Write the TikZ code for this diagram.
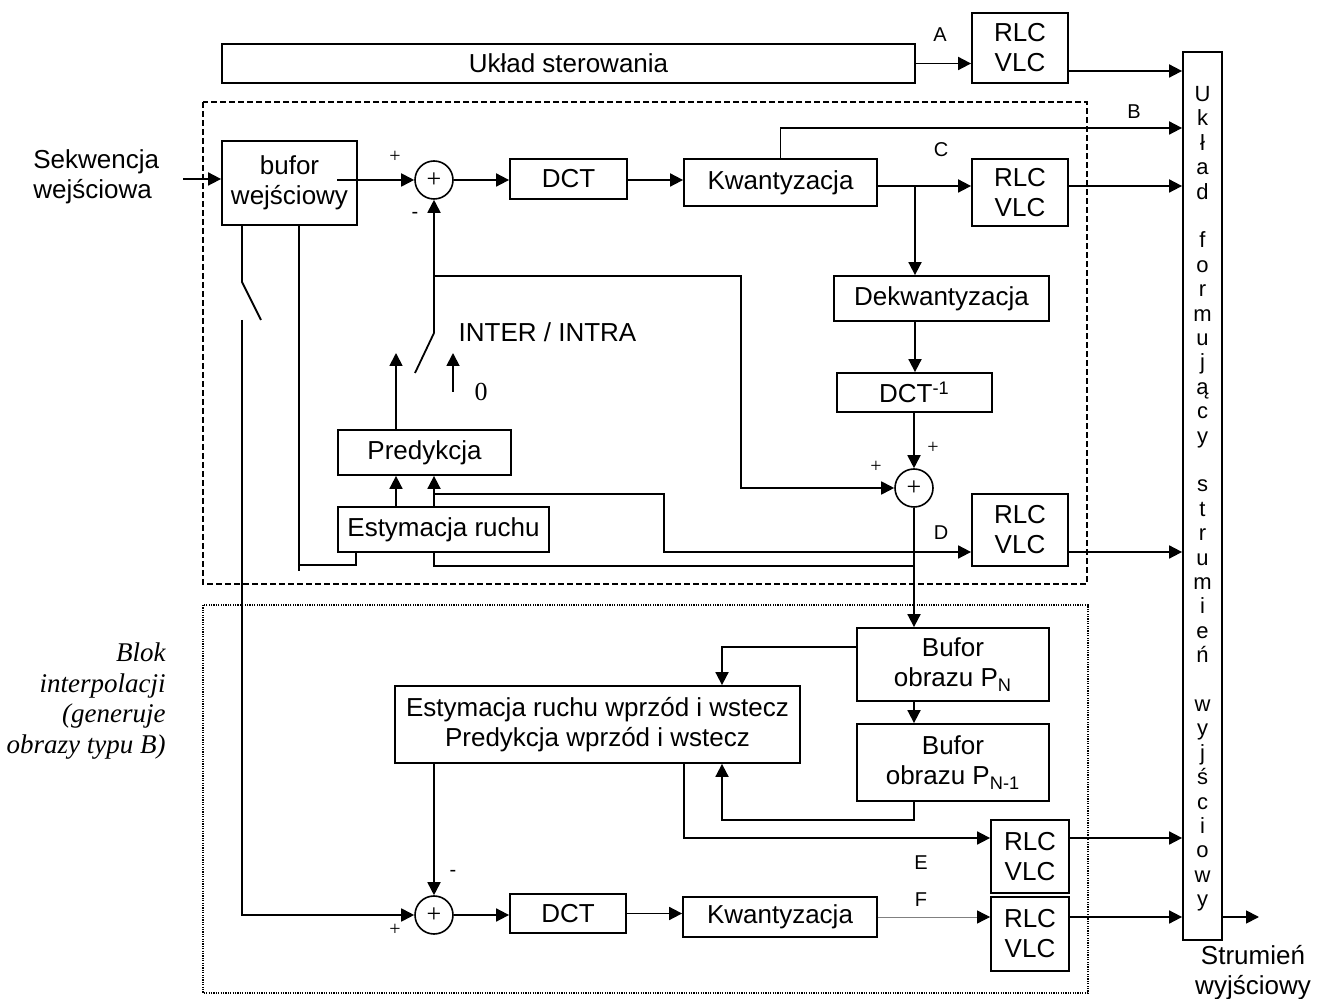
\documentclass[tikz,border=0pt]{standalone}
\usepackage{fontspec}
\setmainfont{Liberation Sans}
\newfontfamily\tms{Liberation Serif}
\usetikzlibrary{arrows.meta}
\tikzset{
  blk/.style={draw, line width=0.9pt, inner sep=0pt, align=center,
    font=\fontsize{13}{15}\selectfont},
  sumc/.style={draw, circle, line width=0.8pt, minimum size=19pt, inner sep=0pt,
    font=\tms\fontsize{13}{13}\selectfont},
  arr/.style={line width=0.9pt, -{Triangle[length=6.5pt,width=6.5pt]}},
  ln/.style={line width=0.9pt},
  lbl/.style={inner sep=0pt, font=\fontsize{10}{10}\selectfont},
  sgn/.style={inner sep=0pt, font=\tms\fontsize{10}{10}\selectfont},
  txt/.style={inner sep=0pt, font=\fontsize{13}{15}\selectfont}
}
\begin{document}
\begin{tikzpicture}[x=0.5pt,y=-0.5pt]
  \useasboundingbox (0,0) rectangle (1318,999);
  % ramki blokow
  \draw [line width=0.9pt, dash pattern=on 3pt off 1.5pt] (203,102) rectangle (1087,584);
  \draw [line width=0.8pt, dash pattern=on 0.6pt off 0.6pt] (203,605) rectangle (1088,993);

  \node [blk, minimum width=346.5pt, minimum height=19.5pt] (uklad) at (568.5,63.5) {Układ sterowania};
  \node [blk, minimum width=48pt, minimum height=35pt] (rlcA) at (1020,48) {RLC\\VLC};
  \node [blk, minimum width=19.5pt, minimum height=444pt] (form) at (1202.5,496) {};
  \node [blk, minimum width=67.5pt, minimum height=42pt] (bufor) at (289.5,183) {bufor\\wejściowy};
  \node [sumc] (sum1) at (434,180) {+};
  \node [blk, minimum width=58.5pt, minimum height=20pt] (dct1) at (568.5,179) {DCT};
  \node [blk, minimum width=96.5pt, minimum height=23.5pt] (kw1) at (780.5,182.5) {Kwantyzacja};
  \node [blk, minimum width=48pt, minimum height=33.5pt] (rlcC) at (1020,192.5) {RLC\\VLC};
  \node [blk, minimum width=107.5pt, minimum height=22.5pt] (dekw) at (941.5,298.5) {Dekwantyzacja};
  \node [blk, minimum width=77.5pt, minimum height=19.5pt] (idct) at (914.5,392.5) {DCT\textsuperscript{-1}};
  \node [sumc] (sum2) at (914,488) {+};
  \node [blk, minimum width=86.5pt, minimum height=22.5pt] (pred) at (424.5,452.5) {Predykcja};
  \node [blk, minimum width=105.5pt, minimum height=22.5pt] (est) at (443.5,529.5) {Estymacja ruchu};
  \node [blk, minimum width=48pt, minimum height=36pt] (rlcD) at (1020,530) {RLC\\VLC};
  \node [blk, minimum width=96pt, minimum height=36.5pt] (bufN) at (953,664.5) {Bufor\\obrazu P\textsubscript{N}};
  \node [blk, minimum width=96pt, minimum height=38.5pt] (bufN1) at (953,762.5) {Bufor\\obrazu P\textsubscript{N-1}};
  \node [blk, minimum width=202.5pt, minimum height=38.5pt] (estB) at (597.5,724.5)
    {Estymacja ruchu wprzód i wstecz\\Predykcja wprzód i wstecz};
  \node [blk, minimum width=39pt, minimum height=36.5pt] (rlcE) at (1030,856.5) {RLC\\VLC};
  \node [blk, minimum width=39pt, minimum height=37pt] (rlcF) at (1030,934) {RLC\\VLC};
  \node [sumc] (sum3) at (434,915) {+};
  \node [blk, minimum width=58pt, minimum height=19.5pt] (dct2) at (568,913.5) {DCT};
  \node [blk, minimum width=97pt, minimum height=20pt] (kw2) at (780,917) {Kwantyzacja};

  % opisy
  \node [txt, align=left, anchor=west] (seq) at (33,177) {Sekwencja\\wejściowa};
  \node [txt, align=center] (strum) at (1253,973) {Strumień\\wyjściowy};
  \node [txt] (intra) at (547.5,332) {INTER / INTRA};
  \node [inner sep=0pt, font=\tms\fontsize{13}{13}\selectfont] (zero) at (481,391.5) {0};
  \node [inner sep=0pt, align=right, anchor=east, font=\tms\itshape\fontsize{13.5}{15.3}\selectfont]
    (blok) at (166,701) {Blok\\interpolacji\\(generuje\\obrazy typu B)};
  \foreach \ch [count=\i from 0] in {U,k,ł,a,d,{},f,o,r,m,u,j,ą,c,y,{},s,t,r,u,m,i,e,ń,{},w,y,j,ś,c,i,o,w,y}
    \node [anchor=base, inner sep=0pt, font=\fontsize{11}{11}\selectfont] (c\i) at (1202.5,101.5+24.4*\i) {\ch};
  \node [lbl] (lA) at (940,35) {A};
  \node [lbl] (lB) at (1134,112) {B};
  \node [lbl] (lC) at (941,150) {C};
  \node [lbl] (lD) at (941,533) {D};
  \node [lbl] (lE) at (921,863) {E};
  \node [lbl] (lF) at (921,900) {F};
  \node [sgn] (p1) at (395,157) {+};
  \node [lbl] (m1) at (415,215) {-};
  \node [sgn] (p2) at (933,448) {+};
  \node [sgn] (p3) at (876,467) {+};
  \node [lbl] (m3) at (453,873) {-};
  \node [sgn] (p4) at (395,930) {+};

  \coordinate (in) at (183,179);
  \coordinate (bo) at (337,180);
  \coordinate (yA) at (0,71);
  \coordinate (yB) at (0,128);
  \coordinate (j1) at (915,186);
  \coordinate (fb) at (434,276);
  \coordinate (fbc) at (741,276);
  \coordinate (sw) at (434,333);
  \coordinate (swb) at (415,373);
  \coordinate (pin) at (396,353);
  \coordinate (zin) at (453,353);
  \coordinate (zb) at (453,392);
  \coordinate (mv) at (434,494);
  \coordinate (mvc) at (664,494);
  \coordinate (yD) at (0,552);
  \coordinate (rc) at (434,566);
  \coordinate (s1) at (242,282);
  \coordinate (s1b) at (261,320);
  \coordinate (s1c) at (242,320);
  \coordinate (b2) at (299,571);
  \coordinate (b2c) at (299,565);
  \coordinate (e1) at ([xshift=9.5pt]est.south west);
  \coordinate (k1) at (722,647);
  \coordinate (k2) at (914,820);
  \coordinate (k3) at (684,763);
  \coordinate (yE) at (0,838);
  \coordinate (yF) at (0,917);
  \coordinate (outp) at (1259,917);

  % tor glowny
  \draw [arr] (in) -- (in -| bufor.west);
  \draw [arr] (bo) -- (sum1.west);
  \draw [arr] (sum1.east) -- (sum1.east -| dct1.west);
  \draw [arr] (dct1.east |- sum1) -- (sum1 -| kw1.west);
  \draw [arr] (kw1.east |- j1) -- (j1 -| rlcC.west);
  \draw [arr] (j1) -- (j1 |- dekw.north);
  \draw [arr] (j1 |- dekw.south) -- (j1 |- idct.north);
  \draw [arr] (idct.south -| sum2) -- (sum2.north);
  \draw [arr] (kw1.north) |- (yB -| form.west);
  \draw [arr] (uklad.east) -- (uklad.east -| rlcA.west);
  \draw [arr] (rlcA.east |- yA) -- (yA -| form.west);
  \draw [arr] (rlcC.east |- j1) -- (j1 -| form.west);
  \draw [arr] (rlcD.east |- yD) -- (yD -| form.west);
  \draw [arr] (rlcE.east |- yE) -- (yE -| form.west);
  \draw [arr] (rlcF.east |- yF) -- (yF -| form.west);
  \draw [arr] (yF -| form.east) -- (outp);
  % petla predykcji
  \draw [arr] (sw) -- (sum1.south);
  \draw [ln] (sw) -- (swb);
  \draw [arr] (fb) -- (fbc) |- (sum2.west);
  \draw [arr] (pred.north -| pin) -- (pin);
  \draw [arr] (zb) -- (zin);
  \draw [arr] (est.north -| pin) -- (pred.south -| pin);
  \draw [arr] (est.north -| fb) -- (pred.south -| fb);
  \draw [arr] (mv) -- (mvc) |- (yD -| rlcD.west);
  \draw [ln] (est.south -| rc) -- (rc) -- (rc -| sum2);
  \draw [arr] (sum2.south) -- (sum2 |- bufN.north);
  \draw [ln] (bufor.south -| s1) -- (s1) -- (s1b);
  \draw [arr] (s1c) |- (sum3.west);
  \draw [ln] (bufor.south -| b2) -- (b2);
  \draw [ln] (b2c) -| (e1);
  % blok interpolacji
  \draw [arr] (bufN.west |- k1) -| (estB.north -| k1);
  \draw [arr] (sum2 |- bufN.south) -- (sum2 |- bufN1.north);
  \draw [arr] (sum2 |- bufN1.south) -- (k2) -| (estB.south -| k1);
  \draw [arr] (estB.south -| k3) |- (yE -| rlcE.west);
  \draw [arr] (estB.south -| sum3) -- (sum3.north);
  \draw [arr] (sum3.east) -- (sum3.east -| dct2.west);
  \draw [arr] (dct2.east) -- (dct2.east -| kw2.west);
  \draw [line width=0.4pt, gray, -{Triangle[length=6.5pt,width=6.5pt,color=black]}]
    (kw2.east |- yF) -- (yF -| rlcF.west);
\end{tikzpicture}
\end{document}
